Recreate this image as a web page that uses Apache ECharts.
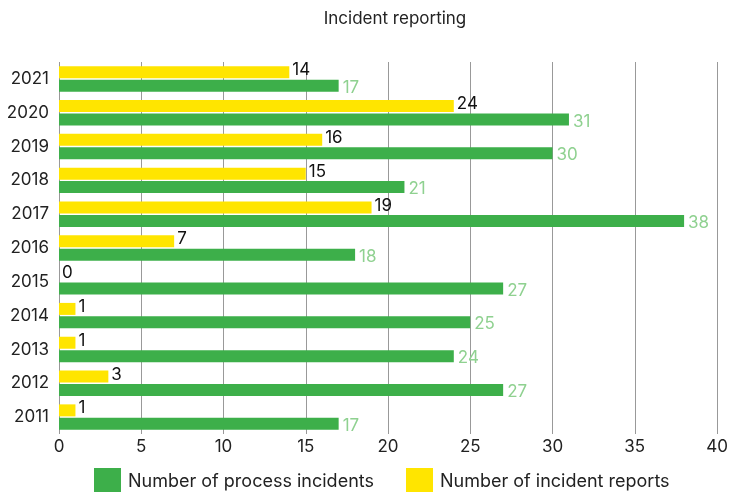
<!DOCTYPE html>
<html>
<head>
<meta charset="utf-8">
<script src="https://cdn.jsdelivr.net/npm/echarts@6/dist/echarts.min.js"></script>
<style>
  html, body { margin: 0; padding: 0; background: #fff; }
  #chart { width: 731px; height: 492px; }
</style>
</head>
<body>
<div id="chart"></div>
<script>
// Years shown bottom-to-top on the category axis
const years = ['2011', '2012', '2013', '2014', '2015', '2016', '2017', '2018', '2019', '2020', '2021'];
const processIncidents = [17, 27, 24, 25, 27, 18, 38, 21, 30, 31, 17];
const incidentReports = [1, 3, 1, 1, 0, 7, 19, 15, 16, 24, 14];
const xTicks = [0, 5, 10, 15, 20, 25, 30, 35, 40];

const FONT = 'Inter, "Noto Sans", sans-serif';
const GREEN = '#3daf4a';
const YELLOW = '#ffe500';

const chart = echarts.init(document.getElementById('chart'));
chart.setOption({
  animation: false,
  textStyle: { fontFamily: FONT },
  title: {
    text: 'Incident reporting',
    left: 390,
    top: 5,
    textAlign: 'center',
    textStyle: { fontFamily: FONT, fontSize: 17, fontWeight: 'normal', color: '#222' }
  },
  legend: {
    left: 89,
    top: 463,
    itemWidth: 27,
    itemHeight: 27,
    itemGap: 32,
    icon: 'rect',
    textStyle: { fontFamily: FONT, fontSize: 18, color: '#222', padding: [0, 0, 0, 2] },
    data: ['Number of process incidents', 'Number of incident reports']
  },
  grid: { left: 59, right: 14, top: 62, bottom: 58, containLabel: false },
  xAxis: {
    type: 'value',
    min: xTicks[0],
    max: xTicks[xTicks.length - 1],
    interval: 5,
    axisLine: { show: false },
    axisTick: { show: false },
    axisLabel: { fontFamily: FONT, fontSize: 17, color: '#222', margin: 4 },
    splitLine: { show: true, lineStyle: { color: '#999', width: 1 } }
  },
  yAxis: {
    type: 'category',
    data: years,
    axisLine: { show: false },
    axisTick: { show: false },
    axisLabel: { fontFamily: FONT, fontSize: 17, color: '#222', margin: 10 }
  },
  series: [
    {
      name: 'Number of incident reports',
      type: 'bar',
      data: incidentReports,
      itemStyle: { color: YELLOW },
      barWidth: 12,
      barGap: '12%',
      label: {
        show: true,
        position: 'right',
        distance: 3,
        fontFamily: FONT,
        fontSize: 17,
        color: '#111',
        offset: [0, -2]
      }
    },
    {
      name: 'Number of process incidents',
      type: 'bar',
      data: processIncidents,
      itemStyle: { color: GREEN },
      barWidth: 12,
      label: {
        show: true,
        position: 'right',
        distance: 4,
        fontFamily: FONT,
        fontSize: 17,
        color: '#8fd190',
        offset: [0, 2]
      }
    }
  ]
});
</script>
</body>
</html>
